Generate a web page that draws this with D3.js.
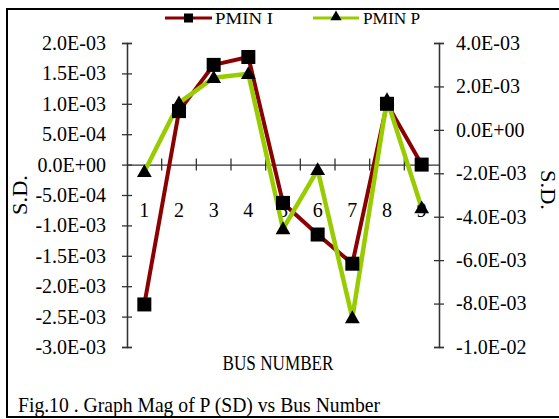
<!DOCTYPE html>
<html>
<head>
<meta charset="utf-8">
<script src="https://cdn.jsdelivr.net/npm/d3@7/dist/d3.min.js"></script>
<style>
  html, body { margin: 0; padding: 0; background: #fff; }
  svg { display: block; }
</style>
</head>
<body>
<svg id="chart" width="559" height="419"></svg>
<script>
// Bus numbers along the category axis
const buses = ["1", "2", "3", "4", "5", "6", "7", "8", "9"];
// PMIN I standard deviation (left axis)
const pminI = [-2.30e-3, 0.88e-3, 1.64e-3, 1.77e-3, -0.63e-3, -1.15e-3, -1.63e-3, 1.00e-3, 0.0];
// PMIN P standard deviation (right axis)
const pminP = [-1.93e-3, 1.24e-3, 2.40e-3, 2.58e-3, -4.56e-3, -1.84e-3, -8.66e-3, 1.38e-3, -3.60e-3];
// Axis tick values
const leftTicks = [2e-3, 1.5e-3, 1e-3, 5e-4, 0, -5e-4, -1e-3, -1.5e-3, -2e-3, -2.5e-3, -3e-3];
const rightTicks = [4e-3, 2e-3, 0, -2e-3, -4e-3, -6e-3, -8e-3, -1e-2];
const seriesNames = ["PMIN I", "PMIN P"];

const RED = "#8b0000";
const GREEN = "#99cc00";
const FONT = '"Times New Roman", Tinos, serif';

const svg = d3.select("#chart");

// Outer frame (right edge runs past the page)
svg.append("rect")
  .attr("x", 7).attr("y", 9).attr("width", 600).attr("height", 408)
  .attr("fill", "none").attr("stroke", "#000").attr("stroke-width", 2);

const x = d3.scaleBand().domain(buses).range([127, 439]).padding(0);
const yL = d3.scaleLinear().domain([-3e-3, 2e-3]).range([347, 43]);
const yR = d3.scaleLinear().domain([-1e-2, 4e-3]).range([347, 43]);

// Scientific label like 2.0E-03 / 0.0E+00 (plain hyphen minus)
function sci(v) {
  if (Math.abs(v) < 1e-12) return "0.0E+00";
  const [m, e] = v.toExponential(1).split("e");
  const en = parseInt(e, 10);
  return m + "E" + (en < 0 ? "-" : "+") + String(Math.abs(en)).padStart(2, "0");
}

function styleAxis(g) {
  g.selectAll("path.domain").attr("stroke", "#333").attr("stroke-width", 1.3);
  g.selectAll(".tick line").attr("stroke", "#333").attr("stroke-width", 1.3);
  g.selectAll("text").style("font-size", "20px").style("font-family", FONT).attr("fill", "#000");
}

// Left value axis: labelled ticks plus mirror ticks to form crosses
svg.append("g").attr("transform", "translate(127,0)")
  .call(d3.axisLeft(yL).tickValues(leftTicks).tickSize(5).tickPadding(16).tickFormat(sci))
  .call(styleAxis);
svg.append("g").attr("transform", "translate(127,0)")
  .call(d3.axisRight(yL).tickValues(leftTicks).tickSize(5).tickFormat(""))
  .call(styleAxis);

// Right value axis
svg.append("g").attr("transform", "translate(439,0)")
  .call(d3.axisRight(yR).tickValues(rightTicks).tickSize(5).tickPadding(12).tickFormat(sci))
  .call(styleAxis);
svg.append("g").attr("transform", "translate(439,0)")
  .call(d3.axisLeft(yR).tickValues(rightTicks).tickSize(5).tickFormat(""))
  .call(styleAxis);

// Category axis at zero of the left scale
const y0 = yL(0);
svg.append("g").attr("transform", `translate(0,${y0})`)
  .call(d3.axisBottom(x).tickSize(0).tickPadding(38))
  .call(styleAxis);
// Cross ticks at category boundaries
const bounds = buses.slice(1).map(b => x(b));
svg.append("g").selectAll("line").data(bounds).join("line")
  .attr("x1", d => d).attr("x2", d => d)
  .attr("y1", y0 - 6).attr("y2", y0 + 6)
  .attr("stroke", "#333").attr("stroke-width", 1.3);

const cx = d => x(d) + x.bandwidth() / 2;

// Series lines
const lineI = d3.line().x((d, i) => cx(buses[i])).y(d => yL(d));
const lineP = d3.line().x((d, i) => cx(buses[i])).y(d => yR(d));

svg.append("path").datum(pminI).attr("d", lineI)
  .attr("fill", "none").attr("stroke", RED).attr("stroke-width", 4).attr("stroke-linejoin", "round");
svg.append("path").datum(pminP).attr("d", lineP)
  .attr("fill", "none").attr("stroke", GREEN).attr("stroke-width", 4.5).attr("stroke-linejoin", "round");

const tri = d3.symbol().type(d3.symbolTriangle).size(95);
const sq = 14;

svg.append("g").selectAll("path").data(pminP).join("path")
  .attr("d", tri)
  .attr("transform", (d, i) => `translate(${cx(buses[i])},${yR(d) + 1})`)
  .attr("fill", "#000");

svg.append("g").selectAll("rect").data(pminI).join("rect")
  .attr("x", (d, i) => cx(buses[i]) - sq / 2)
  .attr("y", d => yL(d) - sq / 2)
  .attr("width", sq).attr("height", sq)
  .attr("fill", "#000");

function label(sel) {
  return sel.style("font-family", FONT).attr("fill", "#000").attr("lengthAdjust", "spacingAndGlyphs");
}

// Legend
const legend = svg.append("g");
legend.append("line").attr("x1", 165).attr("x2", 212).attr("y1", 18).attr("y2", 18)
  .attr("stroke", RED).attr("stroke-width", 3);
legend.append("rect").attr("x", 184).attr("y", 13.5).attr("width", 9).attr("height", 9).attr("fill", "#000");
legend.append("text").attr("x", 215).attr("y", 24).style("font-size", "17px")
  .attr("textLength", 58).call(label).text(seriesNames[0]);

legend.append("line").attr("x1", 313).attr("x2", 359).attr("y1", 18).attr("y2", 18)
  .attr("stroke", GREEN).attr("stroke-width", 3);
legend.append("path").attr("d", d3.symbol().type(d3.symbolTriangle).size(55))
  .attr("transform", "translate(336,17)").attr("fill", "#000");
legend.append("text").attr("x", 363).attr("y", 24).style("font-size", "17px")
  .attr("textLength", 57).call(label).text(seriesNames[1]);

// Axis titles
svg.append("text").attr("x", 278).attr("y", 370).attr("text-anchor", "middle")
  .style("font-size", "21px").attr("textLength", 111).call(label)
  .text("BUS NUMBER");

svg.append("text").attr("transform", "translate(27,195) rotate(-90)")
  .attr("text-anchor", "middle").style("font-size", "20px")
  .attr("textLength", 40).call(label).text("S.D.");

svg.append("text").attr("transform", "translate(541,190) rotate(90)")
  .attr("text-anchor", "middle").style("font-size", "20px")
  .attr("textLength", 40).call(label).text("S.D.");

// Figure caption
svg.append("text").attr("x", 18).attr("y", 412).style("font-size", "21px")
  .attr("textLength", 362).call(label)
  .text("Fig.10 . Graph Mag of P (SD) vs Bus Number");
</script>
</body>
</html>
